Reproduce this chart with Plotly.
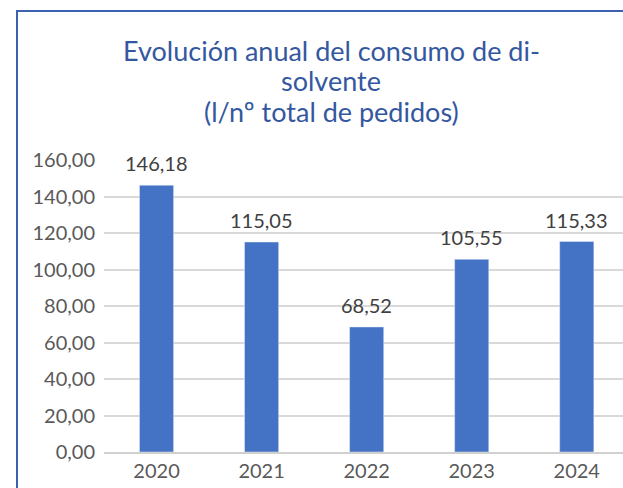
import plotly.graph_objects as go

years = ["2020", "2021", "2022", "2023", "2024"]
consumo = [146.18, 115.05, 68.52, 105.55, 115.33]
y_ticks = [0, 20, 40, 60, 80, 100, 120, 140, 160]
title_lines = ["Evolución anual del consumo de di-", "solvente", "(l/nº total de pedidos)"]

W, H = 623, 488
L, T, B = 104, 160, 36
plot_w = W - L
plot_h = H - T - B


def px_y(py):
    # pixel row -> paper y
    return (H - B - py) / plot_h


fig = go.Figure()
fig.add_trace(go.Bar(
    x=years, y=consumo,
    marker_color="#4472C4",
    hoverinfo="x+y",
))

# data labels above bars
for i, v in enumerate(consumo):
    fig.add_annotation(
        x=i, y=v, xref="x", yref="y",
        text=f"{v:.2f}".replace(".", ","),
        showarrow=False, yanchor="bottom", yshift=8,
        font=dict(family="Lato", size=20, color="#404040"),
    )

# title, one annotation per line
for line, py in zip(title_lines, [50, 81, 111]):
    fig.add_annotation(
        x=(331 - L) / plot_w, y=px_y(py), xref="paper", yref="paper",
        text=line, showarrow=False, xanchor="center", yanchor="middle",
        font=dict(family="Lato", size=27, color="#34589F"),
    )

fig.update_layout(
    width=W, height=H,
    margin=dict(l=L, r=0, t=T, b=B, autoexpand=False),
    paper_bgcolor="white", plot_bgcolor="white",
    separators=",.",
    font=dict(family="Lato", color="#595959"),
    bargap=0.675,
    showlegend=False,
)

fig.update_xaxes(
    type="category", range=[-0.5, 4.44], automargin=False,
    showline=True, linecolor="#D0D0D0", linewidth=2,
    ticks="", tickfont=dict(size=20, color="#595959"),
    showgrid=False,
)
fig.update_yaxes(
    range=[0, 160], tickvals=y_ticks, tickformat=".2f", automargin=False,
    showgrid=True, gridcolor="#D9D9D9", gridwidth=1.5,
    zeroline=False, showline=False,
    ticks="", ticklabelstandoff=8,
    tickfont=dict(size=20, color="#595959"),
)

# chart area border (cropped on the right and bottom)
fig.add_shape(
    type="rect", xref="paper", yref="paper",
    x0=(17 - L) / plot_w, x1=1.3,
    y0=-0.5, y1=px_y(11),
    line=dict(color="#3A62B0", width=2),
    fillcolor="rgba(0,0,0,0)", layer="below",
)

fig.write_html("out.html", config={"displayModeBar": False},
               post_script="document.body.style.margin = '0';")
